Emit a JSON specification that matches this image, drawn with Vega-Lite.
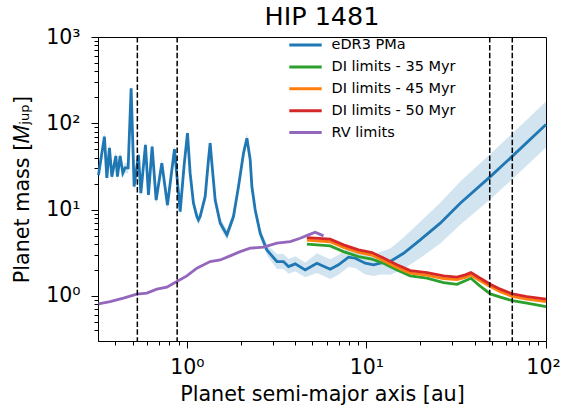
{
  "$schema": "https://vega.github.io/schema/vega-lite/v6.json",
  "width": 448,
  "height": 304,
  "autosize": "none",
  "padding": {"left": 98, "top": 37, "right": 16, "bottom": 68},
  "title": {"text": "HIP 1481", "fontSize": 25.5, "font": "DejaVu Sans", "fontWeight": "normal", "color": "black", "anchor": "middle", "offset": 0, "baseline": "alphabetic", "dy": 23},
  "config": {
    "view": {"stroke": "black", "strokeWidth": 1},
    "font": "DejaVu Sans",
    "axis": {"grid": false, "domainColor": "black", "tickColor": "black", "labelColor": "black", "titleColor": "black", "labelFont": "DejaVu Sans", "titleFont": "DejaVu Sans", "labelFontSize": 20.5, "titleFontSize": 20.7, "titleFontWeight": "normal", "labelOverlap": false, "labelFlush": false},
    "legend": {"orient": "none", "legendX": 197, "legendY": -2.5, "title": null, "symbolType": "M-1.8,0H1.8", "symbolSize": 324, "symbolStrokeWidth": 3, "labelFont": "DejaVu Sans", "labelFontSize": 14.5, "labelColor": "black", "labelOffset": 15.5, "rowPadding": 4.9, "padding": 0}
  },
  "datasets": {
    "pma": [
      {"a": 0.322, "m": 25.2, "lo": 21.9, "hi": 29.0},
      {"a": 0.3475, "m": 70.1, "lo": 61.0, "hi": 80.6},
      {"a": 0.3584, "m": 23.3, "lo": 20.3, "hi": 26.8},
      {"a": 0.3706, "m": 51.9, "lo": 45.1, "hi": 59.7},
      {"a": 0.3822, "m": 24.1, "lo": 21.0, "hi": 27.7},
      {"a": 0.4022, "m": 41.9, "lo": 36.4, "hi": 48.2},
      {"a": 0.4105, "m": 24.1, "lo": 21.0, "hi": 27.7},
      {"a": 0.425, "m": 41.9, "lo": 36.4, "hi": 48.2},
      {"a": 0.4399, "m": 26.6, "lo": 23.1, "hi": 30.6},
      {"a": 0.4531, "m": 30.4, "lo": 26.4, "hi": 35.0},
      {"a": 0.471, "m": 30.4, "lo": 26.4, "hi": 35.0},
      {"a": 0.4894, "m": 255, "lo": 222, "hi": 293},
      {"a": 0.5085, "m": 18.5, "lo": 16.1, "hi": 21.3},
      {"a": 0.5376, "m": 43.0, "lo": 37.4, "hi": 49.5},
      {"a": 0.5543, "m": 15.5, "lo": 13.5, "hi": 17.8},
      {"a": 0.5881, "m": 56.2, "lo": 48.9, "hi": 64.6},
      {"a": 0.6112, "m": 14.8, "lo": 12.9, "hi": 17.0},
      {"a": 0.6407, "m": 53.7, "lo": 46.7, "hi": 61.8},
      {"a": 0.6745, "m": 12.9, "lo": 11.2, "hi": 14.8},
      {"a": 0.7254, "m": 34.5, "lo": 30.0, "hi": 39.7},
      {"a": 0.7797, "m": 11.3, "lo": 9.83, "hi": 13.0},
      {"a": 0.8531, "m": 50.1, "lo": 43.6, "hi": 57.6},
      {"a": 0.9177, "m": 9.5, "lo": 8.26, "hi": 10.9},
      {"a": 0.966, "m": 33, "lo": 28.7, "hi": 38.0},
      {"a": 1.008, "m": 76.8, "lo": 66.8, "hi": 88.3},
      {"a": 1.043, "m": 26.4, "lo": 23.0, "hi": 30.4},
      {"a": 1.088, "m": 11.9, "lo": 10.3, "hi": 13.7},
      {"a": 1.137, "m": 8.3, "lo": 7.22, "hi": 9.55},
      {"a": 1.16, "m": 7.6, "lo": 6.61, "hi": 8.74},
      {"a": 1.186, "m": 8.3, "lo": 7.22, "hi": 9.55},
      {"a": 1.265, "m": 14.2, "lo": 12.3, "hi": 16.3},
      {"a": 1.319, "m": 37.7, "lo": 32.8, "hi": 43.4},
      {"a": 1.348, "m": 58.8, "lo": 51.1, "hi": 67.6},
      {"a": 1.378, "m": 34.5, "lo": 30.0, "hi": 39.7},
      {"a": 1.438, "m": 12.9, "lo": 11.2, "hi": 14.8},
      {"a": 1.533, "m": 7.0, "lo": 6.09, "hi": 8.05},
      {"a": 1.671, "m": 5.1, "lo": 4.43, "hi": 5.87},
      {"a": 1.818, "m": 8.3, "lo": 7.22, "hi": 9.55},
      {"a": 1.939, "m": 18.5, "lo": 16.1, "hi": 21.3},
      {"a": 2.067, "m": 45.0, "lo": 39.1, "hi": 51.8},
      {"a": 2.16, "m": 67.2, "lo": 58.4, "hi": 77.3},
      {"a": 2.253, "m": 37.7, "lo": 32.8, "hi": 43.4},
      {"a": 2.302, "m": 18.5, "lo": 16.1, "hi": 21.3},
      {"a": 2.402, "m": 9.9, "lo": 8.61, "hi": 11.4},
      {"a": 2.561, "m": 5.3, "lo": 4.61, "hi": 6.1},
      {"a": 2.791, "m": 3.4, "lo": 2.96, "hi": 3.91},
      {"a": 3.172, "m": 2.5, "lo": 2.05, "hi": 3.05},
      {"a": 3.452, "m": 2.5, "lo": 2.05, "hi": 3.05},
      {"a": 3.681, "m": 2.19, "lo": 1.8, "hi": 2.67},
      {"a": 4.012, "m": 2.35, "lo": 1.93, "hi": 2.87},
      {"a": 4.56, "m": 2.0, "lo": 1.64, "hi": 2.44},
      {"a": 5.3, "m": 2.39, "lo": 1.84, "hi": 3.11},
      {"a": 6.285, "m": 2.04, "lo": 1.57, "hi": 2.65},
      {"a": 6.99, "m": 2.29, "lo": 1.76, "hi": 2.98},
      {"a": 7.95, "m": 2.81, "lo": 2.16, "hi": 3.65},
      {"a": 8.66, "m": 2.73, "lo": 2.1, "hi": 3.55},
      {"a": 9.85, "m": 2.39, "lo": 1.77, "hi": 3.23},
      {"a": 10.96, "m": 2.29, "lo": 1.7, "hi": 3.09},
      {"a": 11.94, "m": 2.39, "lo": 1.77, "hi": 3.23},
      {"a": 13.57, "m": 2.5, "lo": 1.76, "hi": 3.55},
      {"a": 16.1, "m": 3.12, "lo": 2.05, "hi": 4.74},
      {"a": 19.94, "m": 4.45, "lo": 2.75, "hi": 7.21},
      {"a": 25.77, "m": 6.96, "lo": 4.05, "hi": 12.0},
      {"a": 33.3, "m": 11.87, "lo": 6.67, "hi": 21.1},
      {"a": 48.96, "m": 24.1, "lo": 13.2, "hi": 44.1},
      {"a": 64.6, "m": 41.1, "lo": 22.3, "hi": 75.6},
      {"a": 100, "m": 97, "lo": 52.4, "hi": 179}
    ],
    "di35": [
      {"a": 4.66, "m": 3.97}, {"a": 6.285, "m": 3.8}, {"a": 7.455, "m": 3.26}, {"a": 9.036, "m": 2.85},
      {"a": 10.73, "m": 2.66}, {"a": 12.45, "m": 2.39}, {"a": 14.79, "m": 2.0}, {"a": 17.54, "m": 1.705},
      {"a": 21.73, "m": 1.604}, {"a": 26.89, "m": 1.426}, {"a": 31.93, "m": 1.36}, {"a": 35.51, "m": 1.5},
      {"a": 38.21, "m": 1.6}, {"a": 42.12, "m": 1.341}, {"a": 48.96, "m": 1.055}, {"a": 55.65, "m": 0.966},
      {"a": 64.9, "m": 0.882}, {"a": 78.4, "m": 0.823}, {"a": 100, "m": 0.752}
    ],
    "di45": [
      {"a": 4.66, "m": 4.43}, {"a": 6.285, "m": 4.24}, {"a": 7.455, "m": 3.65}, {"a": 9.036, "m": 3.19},
      {"a": 10.73, "m": 2.97}, {"a": 12.45, "m": 2.56}, {"a": 14.79, "m": 2.14}, {"a": 17.54, "m": 1.84},
      {"a": 21.73, "m": 1.74}, {"a": 26.89, "m": 1.59}, {"a": 31.93, "m": 1.54}, {"a": 35.51, "m": 1.64},
      {"a": 38.21, "m": 1.74}, {"a": 42.12, "m": 1.54}, {"a": 48.96, "m": 1.28}, {"a": 55.65, "m": 1.12},
      {"a": 64.9, "m": 0.986}, {"a": 78.4, "m": 0.917}, {"a": 100, "m": 0.856}
    ],
    "di50": [
      {"a": 4.66, "m": 4.74}, {"a": 6.285, "m": 4.54}, {"a": 7.455, "m": 3.9}, {"a": 9.036, "m": 3.41},
      {"a": 10.73, "m": 3.18}, {"a": 12.45, "m": 2.74}, {"a": 14.79, "m": 2.29}, {"a": 17.54, "m": 1.965},
      {"a": 21.73, "m": 1.862}, {"a": 26.89, "m": 1.705}, {"a": 31.93, "m": 1.647}, {"a": 35.51, "m": 1.751},
      {"a": 38.21, "m": 1.862}, {"a": 42.12, "m": 1.647}, {"a": 48.96, "m": 1.366}, {"a": 55.65, "m": 1.196},
      {"a": 64.9, "m": 1.055}, {"a": 78.4, "m": 0.981}, {"a": 100, "m": 0.916}
    ],
    "rv": [
      {"a": 0.322, "m": 0.808}, {"a": 0.3739, "m": 0.859}, {"a": 0.4433, "m": 0.94}, {"a": 0.5264, "m": 1.046},
      {"a": 0.5986, "m": 1.075}, {"a": 0.6807, "m": 1.196}, {"a": 0.7738, "m": 1.261}, {"a": 0.8795, "m": 1.464},
      {"a": 1.0, "m": 1.705}, {"a": 1.137, "m": 2.094}, {"a": 1.348, "m": 2.5}, {"a": 1.533, "m": 2.61},
      {"a": 1.743, "m": 2.91}, {"a": 1.981, "m": 3.26}, {"a": 2.253, "m": 3.57}, {"a": 2.672, "m": 3.67},
      {"a": 3.172, "m": 4.08}, {"a": 3.764, "m": 4.26}, {"a": 4.276, "m": 4.66}, {"a": 4.758, "m": 5.09},
      {"a": 5.186, "m": 5.47}, {"a": 5.77, "m": 4.96}
    ],
    "rules": [{"a": 0.53}, {"a": 0.883}, {"a": 48.6}, {"a": 64.9}]
  },
  "encoding": {
    "x": {"field": "a", "type": "quantitative", "title": "Planet semi-major axis [au]",
      "scale": {"type": "log", "domain": [0.32, 100], "nice": false},
      "axis": {"values": [0.4, 0.5, 0.6, 0.7, 0.8, 0.9, 1, 2, 3, 4, 5, 6, 7, 8, 9, 10, 20, 30, 40, 50, 60, 70, 80, 90, 100],
        "labelExpr": "datum.value == 1 ? '10⁰' : datum.value == 10 ? '10¹' : datum.value == 100 ? '10²' : ''",
        "tickSize": {"condition": {"test": "datum.value == 1 || datum.value == 10 || datum.value == 100", "value": 7}, "value": 4},
        "labelOffset": {"condition": {"test": "datum.value == 100", "value": -3}, "value": 0},
        "labelPadding": 9.7, "titlePadding": 6}},
    "y": {"field": "m", "type": "quantitative", "title": "Planet mass [𝑀ⱼᵤₚ]",
      "scale": {"type": "log", "domain": [0.3, 1000], "nice": false},
      "axis": {"values": [0.4, 0.5, 0.6, 0.7, 0.8, 0.9, 1, 2, 3, 4, 5, 6, 7, 8, 9, 10, 20, 30, 40, 50, 60, 70, 80, 90, 100, 200, 300, 400, 500, 600, 700, 800, 900, 1000],
        "labelExpr": "datum.value == 1 ? '10⁰' : datum.value == 10 ? '10¹' : datum.value == 100 ? '10²' : datum.value == 1000 ? '10³' : ''",
        "tickSize": {"condition": {"test": "datum.value == 1 || datum.value == 10 || datum.value == 100 || datum.value == 1000", "value": 7}, "value": 4},
        "labelPadding": 11, "titlePadding": 13}}
  },
  "layer": [
    {"data": {"name": "pma"}, "mark": {"type": "area", "color": "#1f77b4", "opacity": 0.2},
      "encoding": {
        "y": {"field": "lo", "type": "quantitative", "title": "Planet mass [𝑀ⱼᵤₚ]", "scale": {"type": "log", "domain": [0.3, 1000], "nice": false}},
        "y2": {"field": "hi"}}},
    {"data": {"name": "pma"}, "mark": {"type": "line", "strokeWidth": 2.8},
      "encoding": {"color": {"datum": "eDR3 PMa", "type": "nominal",
        "scale": {"domain": ["eDR3 PMa", "DI limits - 35 Myr", "DI limits - 45 Myr", "DI limits - 50 Myr", "RV limits"], "range": ["#1f77b4", "#2ca02c", "#ff7f0e", "#d62728", "#9467bd"]}}}},
    {"data": {"name": "di35"}, "mark": {"type": "line", "strokeWidth": 2.8},
      "encoding": {"color": {"datum": "DI limits - 35 Myr", "type": "nominal"}}},
    {"data": {"name": "di45"}, "mark": {"type": "line", "strokeWidth": 2.8},
      "encoding": {"color": {"datum": "DI limits - 45 Myr", "type": "nominal"}}},
    {"data": {"name": "di50"}, "mark": {"type": "line", "strokeWidth": 2.8},
      "encoding": {"color": {"datum": "DI limits - 50 Myr", "type": "nominal"}}},
    {"data": {"name": "rv"}, "mark": {"type": "line", "strokeWidth": 2.8},
      "encoding": {"color": {"datum": "RV limits", "type": "nominal"}}},
    {"data": {"name": "rules"}, "mark": {"type": "rule", "color": "black", "strokeWidth": 1.5, "strokeDash": [5.5, 2.4]},
      "encoding": {"y": null}}
  ]
}
